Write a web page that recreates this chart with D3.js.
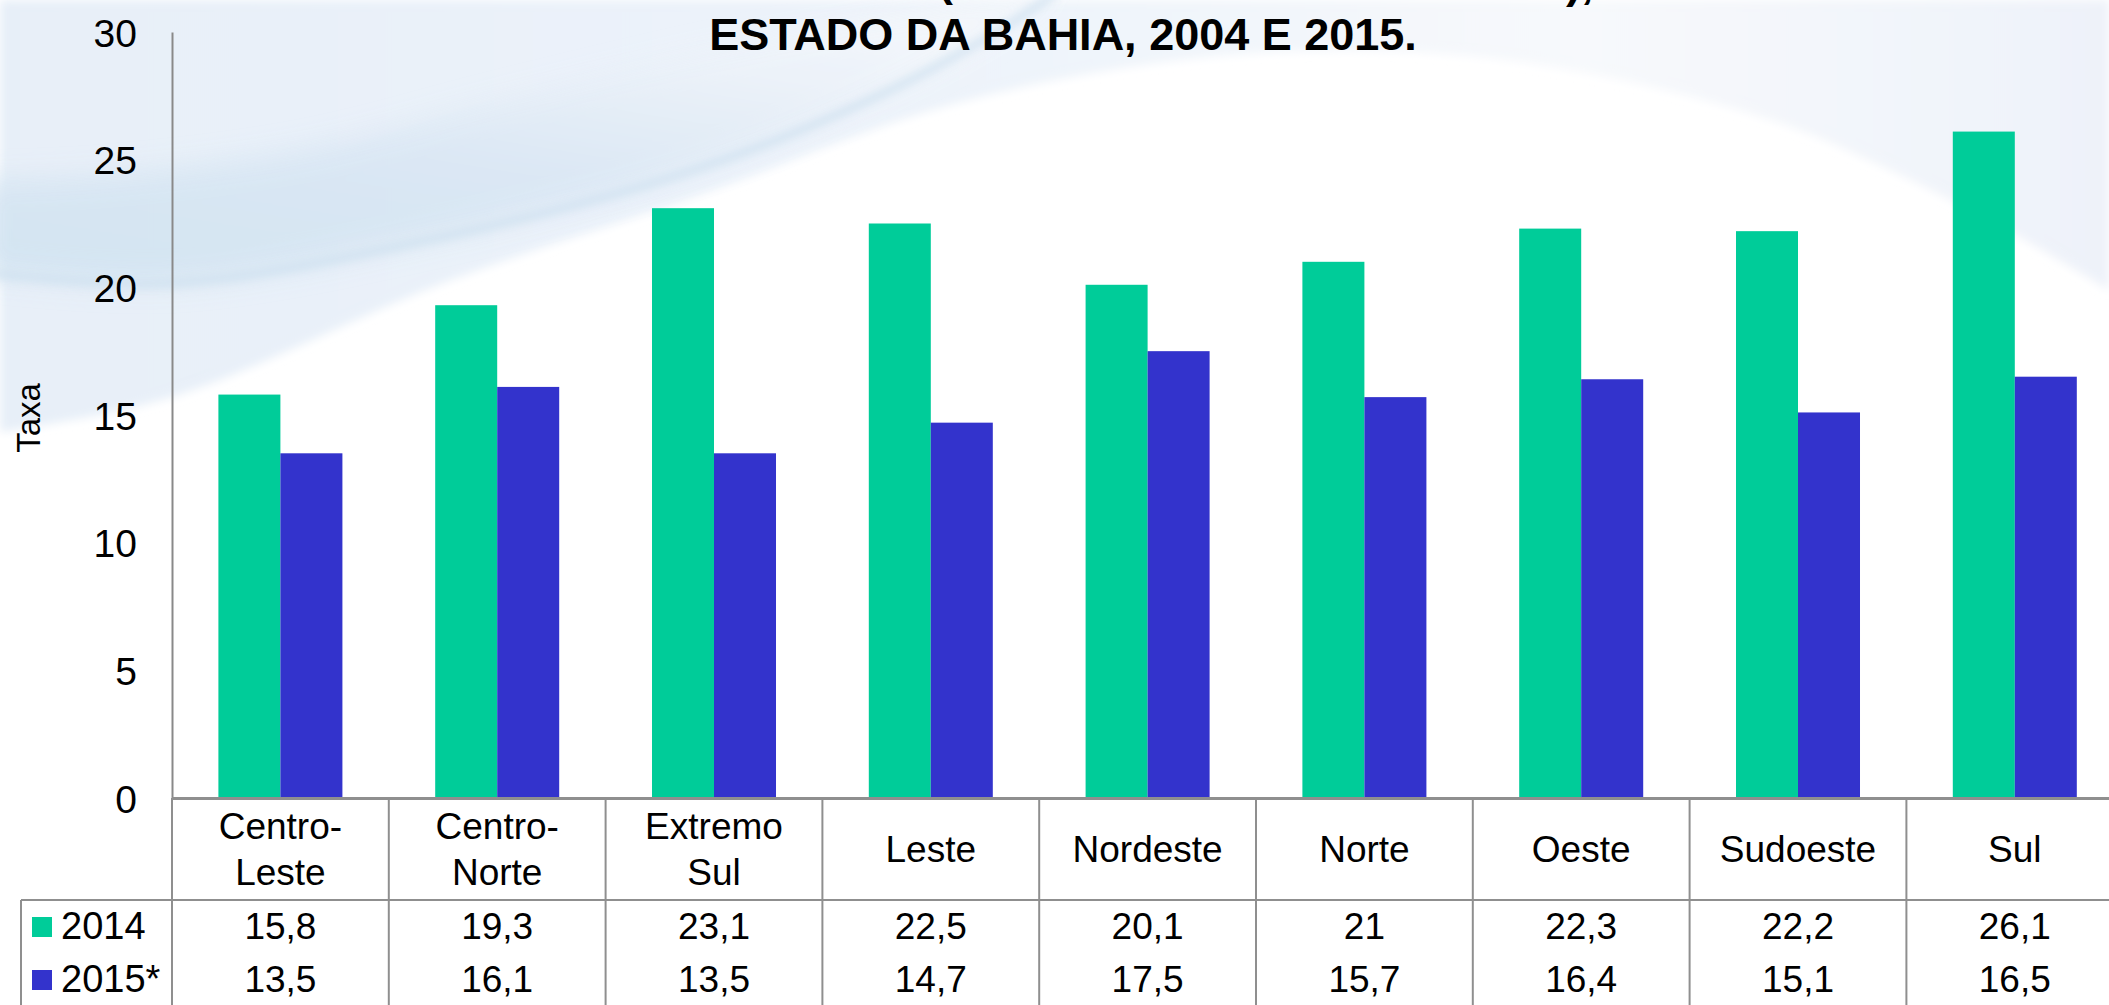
<!DOCTYPE html>
<html>
<head>
<meta charset="utf-8">
<script src="https://cdn.jsdelivr.net/npm/d3@7"></script>
<style>
  html, body { margin: 0; padding: 0; background: #ffffff; }
  svg { display: block; font-family: "Liberation Sans", Arial, sans-serif; }
</style>
</head>
<body>
<svg id="chart" width="2109" height="1005"></svg>
<script>
// Regions of Bahia and the rate for each year
const categories = [
  ["Centro-", "Leste"], ["Centro-", "Norte"], ["Extremo", "Sul"], ["Leste"],
  ["Nordeste"], ["Norte"], ["Oeste"], ["Sudoeste"], ["Sul"]
];
const seriesNames = ["2014", "2015*"];
const values2014 = [15.8, 19.3, 23.1, 22.5, 20.1, 21, 22.3, 22.2, 26.1];
const values2015 = [13.5, 16.1, 13.5, 14.7, 17.5, 15.7, 16.4, 15.1, 16.5];
const yTicks = [0, 5, 10, 15, 20, 25, 30];
const titleText = "ESTADO DA BAHIA, 2004 E 2015.";
const yAxisLabel = "Taxa";
const colors = ["#00cc99", "#3333cc"];

const W = 2109, H = 1005;
const svg = d3.select("#chart");
const defs = svg.append("defs");

// ---------- soft decorative background ----------
const blur = defs.append("filter").attr("id", "soft").attr("x", "-10%").attr("y", "-10%")
  .attr("width", "120%").attr("height", "120%");
blur.append("feGaussianBlur").attr("stdDeviation", 5);
const blurBig = defs.append("filter").attr("id", "softer").attr("x", "-10%").attr("y", "-10%")
  .attr("width", "120%").attr("height", "120%");
blurBig.append("feGaussianBlur").attr("stdDeviation", 14);

const gTop = defs.append("linearGradient").attr("id", "gTop")
  .attr("x1", "0").attr("y1", "0").attr("x2", "1").attr("y2", "0");
gTop.append("stop").attr("offset", "0").attr("stop-color", "#e7eff8");
gTop.append("stop").attr("offset", "0.45").attr("stop-color", "#edf3fa");
gTop.append("stop").attr("offset", "0.75").attr("stop-color", "#f7f9fc");
gTop.append("stop").attr("offset", "1").attr("stop-color", "#eef2f9");

const gBand = defs.append("linearGradient").attr("id", "gBand")
  .attr("x1", "0").attr("y1", "1").attr("x2", "0.6").attr("y2", "0");
gBand.append("stop").attr("offset", "0").attr("stop-color", "#d1e3f1");
gBand.append("stop").attr("offset", "0.5").attr("stop-color", "#dae7f4");
gBand.append("stop").attr("offset", "1").attr("stop-color", "#f4f7fb");

const bg = svg.append("g").attr("class", "background");
bg.append("rect").attr("width", W).attr("height", H).attr("fill", "#ffffff");

const curve = d3.line().curve(d3.curveCatmullRom.alpha(0.5));

// light region above the white dome
const domeEdge = [[0, 432], [172, 397], [446, 282], [700, 195], [950, 105], [1200, 58],
  [1432, 53], [1606, 77], [1780, 123], [1896, 173], [2012, 233], [2109, 290]];
bg.append("path")
  .attr("d", curve(domeEdge) + `L${W},0L0,0Z`)
  .attr("fill", "url(#gTop)")
  .attr("filter", "url(#soft)");

// stronger blue swoosh in the upper left
const swooshLow = [[-20, 272], [172, 283], [446, 236], [700, 168], [880, 95], [1000, 30], [1060, -10]];
const swooshHigh = [[1060, -10], [760, 40], [520, 95], [300, 150], [100, 175], [-20, 180]];
bg.append("path")
  .attr("d", curve(swooshLow) + "L" + curve(swooshHigh).slice(1) + "Z")
  .attr("fill", "url(#gBand)")
  .attr("opacity", 0.9)
  .attr("filter", "url(#softer)");
bg.append("path")
  .attr("d", curve(swooshLow))
  .attr("fill", "none")
  .attr("stroke", "#cde0ef")
  .attr("stroke-width", 6)
  .attr("filter", "url(#soft)");

// ---------- scales ----------
const plotLeft = 172, colW = 216.8, y0 = 798, yTop = 32;
const x0 = d3.scaleBand().domain(d3.range(categories.length))
  .range([plotLeft, plotLeft + colW * categories.length]).padding(0);
const gap = x0.bandwidth() * 0.214;
const x1 = d3.scaleBand().domain(seriesNames).range([gap, x0.bandwidth() - gap]).padding(0);
const y = d3.scaleLinear().domain([0, 30]).range([y0, yTop]);

const series = [values2014, values2015];
const fmt = d3.formatLocale({ decimal: ",", thousands: ".", grouping: [3], currency: ["R$", ""] }).format("~r");

// ---------- title ----------
svg.append("text")
  .attr("x", 1063).attr("y", 50)
  .attr("text-anchor", "middle")
  .attr("font-weight", "bold").attr("font-size", 45)
  .attr("fill", "#000").text(titleText);
// end characters of the upper title line, mostly above the top edge
svg.append("text").attr("x", 938).attr("y", -4).attr("font-weight", "bold")
  .attr("font-size", 45).attr("fill", "#000").text("(");
svg.append("text").attr("x", 1566).attr("y", -2).attr("font-weight", "bold")
  .attr("font-size", 45).attr("fill", "#000").text("),");

// ---------- bars ----------
const barG = svg.append("g").attr("class", "bars");
categories.forEach((c, i) => {
  seriesNames.forEach((s, k) => {
    const v = series[k][i];
    barG.append("rect")
      .attr("x", x0(i) + x1(s))
      .attr("y", y(v))
      .attr("width", x1.bandwidth())
      .attr("height", y(0) - y(v))
      .attr("fill", colors[k]);
  });
});

// ---------- y axis ----------
const yAxis = d3.axisLeft(y).tickValues(yTicks).tickSize(0).tickPadding(35);
const ya = svg.append("g").attr("transform", `translate(${plotLeft},0)`).call(yAxis);
ya.select(".domain").attr("stroke", "#898989").attr("stroke-width", 2);
ya.selectAll(".tick text")
  .attr("font-family", "'Liberation Sans', Arial, sans-serif")
  .attr("font-size", 39).attr("fill", "#000").attr("dy", "0.36em");

svg.append("text")
  .attr("transform", `translate(40,${418}) rotate(-90)`)
  .attr("text-anchor", "middle")
  .attr("font-size", 33).attr("fill", "#000")
  .text(yAxisLabel);

// ---------- data table ----------
const lineColor = "#8f8f8f";
const tableRight = plotLeft + colW * categories.length;
const rowTop = 900;
const tg = svg.append("g").attr("class", "table");

// category names
categories.forEach((c, i) => {
  const cx = x0(i) + x0.bandwidth() / 2;
  const t = tg.append("text").attr("text-anchor", "middle").attr("font-size", 37).attr("fill", "#000");
  if (c.length === 2) {
    t.append("tspan").attr("x", cx).attr("y", 839).text(c[0]);
    t.append("tspan").attr("x", cx).attr("y", 885).text(c[1]);
  } else {
    t.append("tspan").attr("x", cx).attr("y", 862).text(c[0]);
  }
});

// value rows with legend keys
const rowBase = [939, 992];
seriesNames.forEach((s, k) => {
  tg.append("rect").attr("x", 32).attr("y", rowBase[k] - 22).attr("width", 20).attr("height", 20)
    .attr("fill", colors[k]);
  tg.append("text").attr("x", 61).attr("y", rowBase[k]).attr("font-size", 38).attr("fill", "#000").text(s);
  series[k].forEach((v, i) => {
    tg.append("text")
      .attr("x", x0(i) + x0.bandwidth() / 2).attr("y", rowBase[k])
      .attr("text-anchor", "middle").attr("font-size", 37).attr("fill", "#000")
      .text(fmt(v));
  });
});

// grid lines of the table
tg.append("line").attr("x1", 21).attr("x2", tableRight).attr("y1", rowTop).attr("y2", rowTop)
  .attr("stroke", lineColor).attr("stroke-width", 2);
tg.append("line").attr("x1", 21).attr("x2", 21).attr("y1", rowTop).attr("y2", H)
  .attr("stroke", lineColor).attr("stroke-width", 2);
d3.range(categories.length + 1).forEach(i => {
  const xx = plotLeft + colW * i;
  tg.append("line").attr("x1", xx).attr("x2", xx).attr("y1", y0).attr("y2", H)
    .attr("stroke", lineColor).attr("stroke-width", 2);
});

// category axis line
svg.append("line").attr("x1", plotLeft).attr("x2", tableRight).attr("y1", y0 + 0.5).attr("y2", y0 + 0.5)
  .attr("stroke", lineColor).attr("stroke-width", 3);
</script>
</body>
</html>
